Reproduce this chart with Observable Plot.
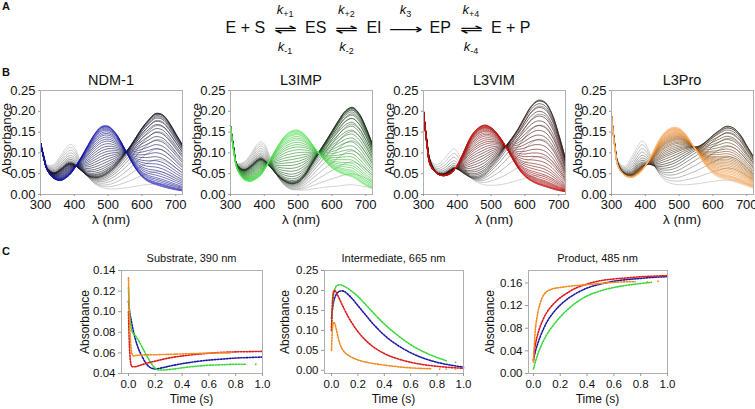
<!DOCTYPE html>
<html><head><meta charset="utf-8">
<script src="https://cdn.jsdelivr.net/npm/d3@7"></script>
<script src="https://cdn.jsdelivr.net/npm/@observablehq/plot@0.6"></script>
<style>
body{margin:0;background:#fff;font-family:"Liberation Sans",Arial,sans-serif;color:#111;}
#root{position:relative;width:755px;height:409px;overflow:hidden;background:#fff;}
.t{position:absolute;white-space:nowrap;line-height:1;}
.c{transform:translate(-50%,-50%);}
.r{transform:translate(-50%,-50%) rotate(-90deg);}
.panel{font-weight:bold;font-size:11px;}
.eq{position:absolute;display:flex;align-items:center;font-size:16px;transform:translate(-50%,-50%);white-space:nowrap;}
.arr{display:inline-flex;flex-direction:column;align-items:center;width:30px;margin:0 5px;}
.k{font-style:italic;font-size:13px;line-height:1;display:block;}
.k sub{font-style:normal;font-size:9px;vertical-align:baseline;position:relative;top:3px;line-height:0;}
.sym{font-family:"DejaVu Sans";font-size:14px;line-height:1;display:block;transform:scaleX(2);margin:6px 0 4px 0;}
</style></head><body><div id="root"></div>
<script>
// ---------- Panel B: spectra (absorbance vs wavelength) ----------
const wavelengths = [300,310,320,340,360,380,390,400,420,440,460,480,500,520,540,560,580,600,620,640,660,680,700,720];

const ndm1Substrate    = [.125,.095,.072,.075,.098,.12,.125,.118,.08,.045,.025,.015,.01,.008,.007,.006,.006,.006,.005,.005,.005,.004,.004,.003];
const ndm1Intermediate = [.125,.09,.062,.052,.062,.075,.076,.072,.055,.04,.034,.036,.046,.062,.085,.112,.142,.172,.195,.212,.21,.19,.16,.13];
const ndm1Product      = [.125,.085,.058,.038,.033,.042,.05,.062,.09,.12,.148,.166,.167,.152,.125,.092,.062,.04,.027,.02,.015,.011,.008,.006];

const l3impSubstrate    = [.165,.11,.075,.08,.1,.125,.13,.125,.085,.045,.022,.012,.01,.008,.008,.008,.008,.007,.006,.006,.006,.005,.005,.004];
const l3impIntermediate = [.165,.11,.07,.06,.07,.085,.088,.083,.062,.04,.025,.018,.022,.04,.07,.1,.13,.16,.19,.215,.225,.21,.175,.13];
const l3impProduct      = [.165,.1,.06,.035,.03,.038,.045,.058,.09,.12,.145,.158,.16,.148,.125,.1,.078,.06,.048,.04,.035,.025,.015,.01];

const l3vimSubstrate    = [.2,.13,.085,.075,.09,.112,.118,.11,.075,.042,.028,.02,.015,.012,.01,.01,.01,.01,.01,.01,.01,.008,.007,.006];
const l3vimIntermediate = [.2,.13,.08,.052,.05,.06,.064,.06,.045,.035,.034,.042,.062,.085,.112,.14,.17,.205,.235,.25,.245,.215,.16,.095];
const l3vimProduct      = [.2,.12,.07,.05,.045,.05,.058,.07,.105,.14,.16,.168,.162,.145,.12,.09,.062,.042,.03,.022,.017,.012,.008,.006];

const l3proSubstrate    = [.19,.12,.08,.07,.095,.125,.135,.128,.09,.05,.03,.022,.018,.016,.015,.015,.015,.015,.015,.015,.015,.012,.01,.008];
const l3proIntermediate = [.19,.12,.072,.05,.052,.07,.075,.072,.062,.055,.055,.06,.072,.09,.11,.13,.155,.18,.2,.214,.21,.19,.155,.12];
const l3proProduct      = [.19,.11,.065,.045,.04,.048,.056,.068,.1,.135,.158,.168,.165,.148,.12,.09,.062,.042,.03,.024,.02,.016,.012,.008];

// species fractions of each recorded spectrum (in time order)
const ndm1SubFrac  = [.90,.76,.62,.49,.37,.27,.19,.12,.07,.04,.02,.01,0,0,0,0,0,0,0,0,0,0,0,0,0,0,0,0,0,0,0,0,0,0,0,0,0,0];
const ndm1IntFrac  = [.10,.24,.38,.50,.61,.70,.77,.83,.87,.90,.91,.91,.90,.88,.85,.81,.77,.72,.67,.62,.57,.52,.47,.42,.37,.32,.28,.24,.20,.17,.14,.11,.09,.07,.05,.04,.03,.02];
const ndm1ProdFrac = [0,0,0,.01,.02,.03,.04,.05,.06,.06,.07,.08,.10,.12,.15,.19,.23,.28,.33,.38,.43,.48,.53,.58,.63,.68,.72,.76,.80,.83,.86,.89,.91,.93,.95,.96,.97,.98];

const l3impSubFrac  = [.92,.80,.67,.54,.42,.31,.22,.15,.09,.05,.03,.01,0,0,0,0,0,0,0,0,0,0,0,0,0,0,0,0,0,0,0,0,0,0,0,0,0,0];
const l3impIntFrac  = [.08,.20,.33,.45,.56,.66,.74,.80,.85,.89,.91,.92,.92,.91,.89,.86,.82,.78,.73,.68,.63,.58,.53,.48,.43,.38,.33,.29,.25,.21,.18,.15,.12,.10,.08,.06,.05,.04];
const l3impProdFrac = [0,0,0,.01,.02,.03,.04,.05,.06,.06,.06,.07,.08,.09,.11,.14,.18,.22,.27,.32,.37,.42,.47,.52,.57,.62,.67,.71,.75,.79,.82,.85,.88,.90,.92,.94,.95,.96];

const l3vimSubFrac  = [.85,.65,.47,.32,.20,.11,.05,.02,0,0,0,0,0,0,0,0,0,0,0,0,0,0,0,0,0,0,0,0,0,0,0,0,0,0,0,0,0,0];
const l3vimIntFrac  = [.15,.34,.51,.65,.76,.84,.89,.90,.89,.86,.82,.78,.73,.68,.63,.58,.53,.48,.43,.38,.34,.30,.26,.22,.19,.16,.13,.11,.09,.07,.06,.05,.04,.03,.02,.02,.01,.01];
const l3vimProdFrac = [0,.01,.02,.03,.04,.05,.06,.08,.11,.14,.18,.22,.27,.32,.37,.42,.47,.52,.57,.62,.66,.70,.74,.78,.81,.84,.87,.89,.91,.93,.94,.95,.96,.97,.98,.98,.99,.99];

const l3proSubFrac  = [.90,.75,.60,.46,.34,.24,.16,.10,.06,.03,.01,0,0,0,0,0,0,0,0,0,0,0,0,0,0,0,0,0,0,0,0,0,0,0,0,0,0,0];
const l3proIntFrac  = [.10,.24,.38,.50,.60,.67,.72,.74,.74,.72,.69,.65,.61,.57,.53,.49,.45,.42,.39,.36,.34,.32,.30,.28,.26,.24,.22,.20,.18,.16,.14,.12,.11,.10,.09,.08,.07,.06];
const l3proProdFrac = [0,.01,.02,.04,.06,.09,.12,.16,.20,.25,.30,.35,.39,.43,.47,.51,.55,.58,.61,.64,.66,.68,.70,.72,.74,.76,.78,.80,.82,.84,.86,.88,.89,.90,.91,.92,.93,.94];

const enzymeNames = ["NDM-1","L3IMP","L3VIM","L3Pro"];
const spectraTicksX = [300,400,500,600,700];
const spectraTicksY = [0,0.05,0.10,0.15,0.20,0.25];

// ---------- Panel C: kinetic traces [time (s), absorbance] ----------
const substrateNdm1   = [[0,.11],[.005,.104],[.01,.099],[.02,.092],[.035,.082],[.05,.074],[.075,.064],[.1,.057],[.125,.051],[.15,.047],[.175,.045],[.2,.0445],[.25,.0455],[.3,.047],[.4,.0495],[.5,.0515],[.6,.053],[.7,.054],[.8,.055],[.9,.0555],[1.0,.056]];
const substrateL3imp  = [[0,.123],[.005,.108],[.01,.095],[.02,.085],[.03,.08],[.05,.077],[.075,.072],[.1,.066],[.125,.06],[.15,.054],[.175,.049],[.2,.045],[.225,.0435],[.25,.0433],[.3,.0438],[.4,.0455],[.5,.047],[.6,.048],[.7,.0485],[.8,.049],[.88,.049]];
const substrateL3vim  = [[0,.1],[.005,.075],[.01,.06],[.015,.052],[.02,.048],[.03,.0465],[.05,.0465],[.075,.0475],[.1,.0485],[.15,.0505],[.2,.052],[.3,.055],[.4,.057],[.5,.0585],[.6,.0597],[.7,.0605],[.8,.061],[.9,.0612],[1.0,.0615]];
const substrateL3pro  = [[0,.133],[.003,.115],[.006,.1],[.01,.085],[.015,.072],[.02,.064],[.03,.058],[.04,.057],[.06,.0575],[.1,.058],[.2,.0582],[.3,.0586],[.4,.059],[.5,.0594],[.6,.0598],[.7,.06],[.76,.06]];
const substrateStray  = [[.95,.049,"L3IMP"]];

const intermediateNdm1  = [[0,.13],[.01,.16],[.02,.177],[.03,.186],[.045,.194],[.06,.198],[.08,.199],[.1,.197],[.125,.19],[.15,.182],[.2,.162],[.25,.142],[.3,.122],[.35,.104],[.4,.088],[.5,.063],[.6,.044],[.7,.03],[.8,.02],[.9,.013],[1.0,.008]];
const intermediateL3imp = [[0,.1],[.005,.14],[.01,.17],[.02,.196],[.03,.207],[.045,.213],[.06,.214],[.08,.213],[.1,.21],[.125,.205],[.15,.199],[.2,.185],[.25,.168],[.3,.15],[.4,.116],[.5,.088],[.6,.064],[.7,.046],[.8,.032],[.88,.023]];
const intermediateL3vim = [[0,.1],[.005,.155],[.01,.185],[.02,.2],[.03,.198],[.05,.186],[.075,.168],[.1,.151],[.125,.135],[.15,.121],[.2,.097],[.25,.078],[.3,.063],[.4,.042],[.5,.029],[.6,.02],[.7,.014],[.8,.01],[.9,.007],[1.0,.005]];
const intermediateL3pro = [[0,.05],[.004,.085],[.008,.107],[.012,.117],[.018,.12],[.025,.117],[.035,.105],[.05,.083],[.065,.065],[.08,.054],[.1,.045],[.125,.038],[.15,.033],[.2,.026],[.3,.018],[.4,.013],[.5,.009],[.6,.006],[.7,.0045],[.76,.004]];
const intermediateStray = [[.94,.02,"L3IMP"],[.82,.003,"L3Pro"],[.87,.003,"L3Pro"],[.94,.003,"L3Pro"]];

const productNdm1  = [[0,.025],[.01,.035],[.02,.044],[.035,.055],[.05,.065],[.075,.079],[.1,.091],[.15,.108],[.2,.121],[.25,.131],[.3,.139],[.4,.151],[.5,.158],[.6,.163],[.7,.166],[.8,.168],[.9,.17],[1.0,.171]];
const productL3imp = [[0,.008],[.01,.017],[.02,.025],[.035,.036],[.05,.045],[.075,.058],[.1,.069],[.15,.086],[.2,.1],[.25,.112],[.3,.122],[.4,.137],[.5,.146],[.6,.152],[.7,.156],[.8,.159],[.88,.161]];
const productL3vim = [[0,.022],[.01,.045],[.02,.058],[.035,.072],[.05,.083],[.075,.097],[.1,.108],[.15,.123],[.2,.134],[.25,.142],[.3,.149],[.4,.158],[.5,.164],[.6,.167],[.7,.169],[.8,.171],[.9,.172],[1.0,.173]];
const productL3pro = [[0,.02],[.005,.045],[.01,.065],[.015,.08],[.02,.09],[.025,.097],[.035,.11],[.05,.124],[.065,.134],[.08,.14],[.1,.145],[.125,.148],[.15,.15],[.2,.152],[.3,.155],[.4,.157],[.5,.159],[.6,.161],[.7,.162],[.76,.162]];
const productStray = [[.85,.162,"L3Pro"],[.93,.163,"L3Pro"]];

const kineticTitles = ["Substrate, 390 nm","Intermediate, 665 nm","Product, 485 nm"];
const timeTicks = [0,0.2,0.4,0.6,0.8,1.0];

// ---------- styles ----------
const traceColors = {"NDM-1":"#1a1aa6","L3IMP":"#3ad83a","L3VIM":"#de1a1a","L3Pro":"#f28a20"};
const curvePalettes = [
  {stops:[0,.28,1], colors:["#b8b8b8","#141418","#1414b2"]},
  {stops:[0,.3,.8,1], colors:["#b8b8b8","#142014","#2ec42e","#5ae85a"]},
  {stops:[0,.2,1], colors:["#b8b8b8","#201212","#cc1010"]},
  {stops:[0,.2,.75,1], colors:["#b8b8b8","#201a12","#e8801a","#f7c08a"]}
];
const FONT = '"Liberation Sans", Arial, sans-serif';

const root = document.getElementById("root");
function label(str, x, y, cls, size, extra){
  const d = document.createElement("div");
  d.className = "t " + cls;
  d.style.left = x + "px"; d.style.top = y + "px";
  d.style.fontSize = size + "px";
  if (extra) Object.assign(d.style, extra);
  d.innerHTML = str; root.appendChild(d); return d;
}
function mount(svg, left, top){
  svg.style.position = "absolute"; svg.style.left = left + "px"; svg.style.top = top + "px";
  root.appendChild(svg);
}

// Panel letters
label("A", 2, 1, "panel", 11);
label("B", 2, 67, "panel", 11);
label("C", 2, 246, "panel", 11);

// Reaction scheme
const eq = document.createElement("div");
eq.className = "eq";
eq.style.left = "378px"; eq.style.top = "28px";
function arrows(up, down){
  return `<span class="arr"><span class="k">k<sub>${up}</sub></span><span class="sym">⇌</span><span class="k">k<sub>${down}</sub></span></span>`;
}
eq.innerHTML = `<span>E + S</span>${arrows("+1","-1")}<span>ES</span>${arrows("+2","-2")}<span>EI</span>` +
  `<span class="arr" style="width:32px;margin:0 8px"><span class="k">k<sub>3</sub></span><span class="sym" style="transform:scaleX(1.7)">⟶</span><span class="k" style="visibility:hidden">k<sub>3</sub></span></span>` +
  `<span>EP</span>${arrows("+4","-4")}<span>E + P</span>`;
root.appendChild(eq);

// ---------- Panel B ----------
const spectraSets = [
  [ndm1Substrate, ndm1Intermediate, ndm1Product, ndm1SubFrac, ndm1IntFrac, ndm1ProdFrac],
  [l3impSubstrate, l3impIntermediate, l3impProduct, l3impSubFrac, l3impIntFrac, l3impProdFrac],
  [l3vimSubstrate, l3vimIntermediate, l3vimProduct, l3vimSubFrac, l3vimIntFrac, l3vimProdFrac],
  [l3proSubstrate, l3proIntermediate, l3proProduct, l3proSubFrac, l3proIntFrac, l3proProdFrac]
];
const bLefts = [0, 190, 383, 571];
spectraSets.forEach(([S, I, P, fs, fi, fp], e) => {
  const pal = curvePalettes[e];
  const colorOf = d3.scaleLinear().domain(pal.stops).range(pal.colors).interpolate(d3.interpolateRgb);
  const n = fs.length;
  const rows = [];
  for (let k = 0; k < n; k++) {
    const c = colorOf(k / (n - 1));
    wavelengths.forEach((w, j) => rows.push({k, w, a: fs[k]*S[j] + fi[k]*I[j] + fp[k]*P[j], c}));
  }
  const W = e === 3 ? 184 : 190;
  const svg = Plot.plot({
    width: W, height: 135, marginLeft: 40, marginRight: W - 182, marginTop: 2, marginBottom: 29,
    x: {domain: [300, 720], label: null},
    y: {domain: [0, 0.25], label: null},
    color: {type: "identity"},
    style: {fontFamily: FONT, fontSize: "13px", color: "#111", background: "transparent", overflow: "visible"},
    marks: [
      Plot.line(rows, {x: "w", y: "a", z: "k", stroke: "c", strokeWidth: 0.6, curve: "catmull-rom"}),
      Plot.frame({stroke: "#b0b0b0"}),
      Plot.axisX({ticks: spectraTicksX, tickFormat: d => String(d), tickSize: 2, tickPadding: 3, stroke: "#999", label: null}),
      Plot.axisY({ticks: spectraTicksY, tickFormat: d3.format(".2f"), tickSize: 2, tickPadding: 3, stroke: "#999", label: null})
    ]
  });
  const left = bLefts[e];
  mount(svg, left, 88);
  label(enzymeNames[e], left + 111, 80, "c", 14.5);
  label("Absorbance", left + 7, 139, "r", 13.5);
  label("λ (nm)", left + 111, 220, "c", 13.5);
});

// ---------- Panel C ----------
const kineticSets = [
  {series: [substrateNdm1, substrateL3imp, substrateL3vim, substrateL3pro], stray: substrateStray,
   left: 80, mL: 41, frameR: 262, x: [-0.052, 1.0], y: [0.04, 0.14], yTicks: [0.04,0.06,0.08,0.10,0.12,0.14], ylab: 85},
  {series: [intermediateNdm1, intermediateL3imp, intermediateL3vim, intermediateL3pro], stray: intermediateStray,
   left: 279, mL: 45, frameR: 463, x: [-0.053, 1.0], y: [-0.008, 0.25], yTicks: [0,0.05,0.10,0.15,0.20,0.25], ylab: 285},
  {series: [productNdm1, productL3imp, productL3vim, productL3pro], stray: productStray,
   left: 483, mL: 45, frameR: 667, x: [-0.037, 1.0], y: [0, 0.182], yTicks: [0,0.04,0.08,0.12,0.16], ylab: 490}
];
kineticSets.forEach((ks, p) => {
  const rows = [];
  ks.series.forEach((arr, e) => arr.forEach(([t, a]) => rows.push({t, a, enz: enzymeNames[e]})));
  const stray = ks.stray.map(([t, a, enz]) => ({t, a, enz}));
  const W = ks.frameR - ks.left + 2;
  const svg = Plot.plot({
    width: W, height: 144, marginLeft: ks.mL, marginRight: 2, marginTop: 5, marginBottom: 36,
    x: {domain: ks.x, label: null},
    y: {domain: ks.y, label: null},
    style: {fontFamily: FONT, fontSize: "11.5px", color: "#111", background: "transparent", overflow: "visible"},
    marks: [
      Plot.line(rows, {x: "t", y: "a", z: "enz", stroke: d => traceColors[d.enz], strokeWidth: 1.6,
        strokeDasharray: "1.4,1.5", curve: "monotone-x"}),
      Plot.dot(stray, {x: "t", y: "a", r: 0.9, fill: d => traceColors[d.enz], stroke: null}),
      Plot.frame({stroke: "#b0b0b0"}),
      Plot.axisX({ticks: timeTicks, tickFormat: d3.format(".1f"), tickSize: 3, tickPadding: 3, stroke: "#999", label: null}),
      Plot.axisY({ticks: ks.yTicks, tickFormat: d3.format(".2f"), tickSize: 3, tickPadding: 3, stroke: "#999", label: null})
    ]
  });
  mount(svg, ks.left, 265);
  const fL = ks.left + ks.mL, fC = (fL + ks.frameR) / 2;
  label(kineticTitles[p], fC, 258, "c", 11);
  label("Absorbance", ks.ylab, 322, "r", 12);
  label("Time (s)", fC, 399, "c", 12);
});
</script>
</body></html>
